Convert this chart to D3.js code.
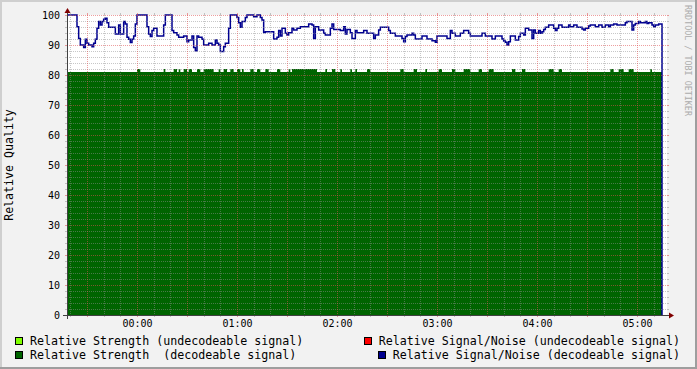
<!DOCTYPE html>
<html lang="en">
<head>
<meta charset="UTF-8">
<title>Relative Quality</title>
<script src="https://d3js.org/d3.v7.min.js"></script>
<style>
  body { margin: 0; background: #f2f2f2; }
  svg text { font-family: "DejaVu Sans Mono", monospace; }
</style>
</head>
<body>
<div id="chart"></div>
<script>
// time window of the graph (clock times, the end is on the next day)
const startTime = "23:18";
const endTime = "05:18";
const hourLabels = ["00:00", "01:00", "02:00", "03:00", "04:00", "05:00"];
const yTicks = [0, 10, 20, 30, 40, 50, 60, 70, 80, 90, 100];

// [minutes after startTime, value] - step changes
const snrDecodeable = [
  [0,100],[6,96.1],[7,92.2],[8,90],[10,89.2],[11,91.9],[12,90.6],[13,90],[15,89.4],[16,90.6],
  [17,91.9],[18,95.6],[19,97.8],[20,96.7],[21,97.8],[22,98.6],[23,98.9],[24,97.4],[25,95.9],[29,93.7],
  [31,96.7],[32,93.7],[34,97.8],[35,97],[36,92.6],[37,91.9],[38,90.8],[39,91.9],[40,93],[41,97],
  [42,100],[48,96.1],[49,93.7],[50,92.8],[51,94.8],[52,95.6],[54,93],[58,96.7],[59,100],[63,94.8],
  [64,94.1],[66,93.3],[67,92.6],[70,93],[72,91.1],[73,91.7],[75,93],[76,89.2],[77,88.1],[78,93],
  [79,92.6],[81,91.9],[82,90],[85,90.6],[87,90],[89,91.7],[90,90.6],[91,90],[92,87.8],[94,89.4],
  [95,90.6],[97,95.6],[98,100],[102,99.2],[103,97.4],[104,95.9],[105,97.8],[107,99.2],[108,100],[112,99.4],
  [114,100],[116,99.2],[117,98.3],[118,94.2],[119,94.4],[124,92],[126,92.6],[127,94.8],[128,93],[129,95.6],
  [131,93.9],[132,93.3],[133,94.1],[135,95.6],[136,95],[138,95.6],[140,96.1],[145,97],[147,96.7],[148,92.2],
  [149,96.1],[151,95],[154,93.9],[155,93.3],[158,95.6],[159,97],[160,95.2],[164,94.8],[166,96.1],[167,93.7],
  [168,95.2],[170,94.1],[171,92.2],[173,94.8],[174,94.1],[178,94.8],[180,93.9],[184,92.2],[185,93.3],[187,95],
  [188,95.9],[193,94.8],[194,93.9],[197,93],[201,92.2],[202,91.1],[203,92.8],[204,93.3],[207,93.9],[208,93.3],
  [209,92],[213,93],[216,92],[219,91.4],[221,90.9],[222,93],[228,92.2],[230,94.8],[231,93.9],[233,93],
  [236,93.9],[238,94.8],[241,93.9],[242,93],[249,93.9],[251,93],[255,92],[257,93],[261,92],[262,91.3],
  [263,90.9],[264,90],[265,91.1],[266,93],[269,91.7],[271,92.8],[272,93.9],[274,93.3],[275,95.6],[277,95],
  [279,92.2],[280,95],[281,93.9],[283,94.8],[284,93.9],[285,94.4],[286,95.2],[287,95.9],[289,96.7],[292,95.6],
  [293,94.8],[294,95.6],[295,96.7],[297,95.9],[301,96.7],[302,96.1],[304,96.7],[306,95.9],[309,95.3],[310,95],
  [311,95.6],[313,96.3],[314,96.7],[317,96.1],[319,96.7],[321,95.9],[323,96.7],[325,96.1],[326,96.7],[328,97],
  [330,96.7],[335,97.4],[336,97.8],[339,95],[340,96.7],[341,97.2],[343,97.8],[344,97.4],[347,97.8],[348,97.2],
  [349,97.4],[351,96.7],[352,96.1],[353,96.7],[355,97],[357,0]
];

const strengthDecodeable = [
  [0,81],[42,82],[44,81],[58,82],[59,81],[64,82],[66,81],[67,82],[68,81],[70,82],
  [72,81],[73,82],[75,81],[78,82],[80,81],[82,82],[88,81],[91,82],[92,81],[94,82],
  [96,81],[98,82],[100,81],[102,82],[104,81],[105,82],[106,81],[110,82],[112,81],[114,82],
  [116,81],[119,82],[121,81],[126,82],[128,81],[133,82],[134,81],[135,82],[150,81],[155,82],
  [156,81],[159,82],[161,81],[164,82],[165,81],[170,82],[171,81],[173,82],[174,81],[180,82],
  [182,81],[200,82],[202,81],[208,82],[210,81],[215,82],[216,81],[223,82],[225,81],[231,82],
  [233,81],[238,82],[242,81],[247,82],[249,81],[253,82],[256,81],[267,82],[269,81],[273,82],
  [275,81],[289,82],[292,81],[295,82],[297,81],[326,82],[328,81],[331,82],[334,81],[337,82],
  [340,81],[350,82],[351,81],[357,0]
];

const legendLabels = [
  "Relative Strength (undecodeable signal)",
  "Relative Signal/Noise (undecodeable signal)",
  "Relative Strength  (decodeable signal)",
  "Relative Signal/Noise (decodeable signal)"
];
const legendColors = ["#80ff00", "#ff0000", "#006400", "#000090"];

const W = 697, H = 369;
const X0 = 67, X1 = 667, Y0 = 315, Y1 = 15;

function clock(s, nextDay) {
  const [h, m] = s.split(":").map(Number);
  return new Date(2024, 0, nextDay ? 2 : 1, h, m);
}
const t0 = clock(startTime, false);
const t1 = clock(endTime, true);
const at = m => new Date(t0.getTime() + m * 60000);

const x = d3.scaleTime().domain([t0, t1]).range([X0, X1]);
const y = d3.scaleLinear().domain([0, 100]).range([Y0, Y1]);

const svg = d3.select("#chart").append("svg")
  .attr("width", W).attr("height", H);

// background + 3d border
svg.append("rect").attr("width", W).attr("height", H).attr("fill", "#f2f2f2");
svg.append("path").attr("d", `M0,0H${W}V2H2V${H}H0Z`).attr("fill", "#cfcfcf");
svg.append("path").attr("d", `M${W},${H}H0V${H - 2}H${W - 2}V0H${W}Z`).attr("fill", "#9e9e9e");

// canvas
svg.append("rect").attr("x", X0).attr("y", Y1).attr("width", X1 - X0).attr("height", Y0 - Y1).attr("fill", "#fff");

// data
const area = d3.area()
  .x(d => x(at(d[0]))).y0(y(0)).y1(d => y(d[1]))
  .curve(d3.curveStepAfter);
svg.append("path").datum(strengthDecodeable)
  .attr("d", area).attr("fill", legendColors[2]);

const line = d3.line()
  .x(d => x(at(d[0]))).y(d => y(d[1]))
  .curve(d3.curveStepAfter);
svg.append("path").datum(snrDecodeable)
  .attr("d", line).attr("fill", "none")
  .attr("stroke", legendColors[3]).attr("stroke-width", 1.5);

// grid
const minorCol = "rgba(143,143,143,0.5)";
const majorCol = "rgba(222,79,79,0.55)";
const grid = svg.append("g").attr("shape-rendering", "crispEdges");

const yMinor = d3.range(2, 100, 2).filter(v => v % 10 !== 0);
const yMajor = yTicks.filter(v => v > 0);
function hLines(vals, col) {
  vals.forEach(v => {
    const py = Math.round(y(v)) + 0.5;
    grid.append("line").attr("x1", X0).attr("x2", X1).attr("y1", py).attr("y2", py)
      .attr("stroke", col).attr("stroke-dasharray", "1,1");
    grid.append("line").attr("x1", X0 - 2).attr("x2", X0).attr("y1", py).attr("y2", py).attr("stroke", col);
    grid.append("line").attr("x1", X1).attr("x2", X1 + 2).attr("y1", py).attr("y2", py).attr("stroke", col);
  });
}
hLines(yMinor, minorCol);
hLines(yMajor, majorCol);

const xAll = d3.timeMinute.every(10).range(t0, t1);
const xMajor = xAll.filter(d => d.getMinutes() % 30 === 0);
const xMinor = xAll.filter(d => d.getMinutes() % 30 !== 0);
function vLines(vals, col) {
  vals.forEach(d => {
    const px = Math.round(x(d)) + 0.5;
    grid.append("line").attr("x1", px).attr("x2", px).attr("y1", Y1).attr("y2", Y0)
      .attr("stroke", col).attr("stroke-dasharray", "1,1");
    grid.append("line").attr("x1", px).attr("x2", px).attr("y1", Y0).attr("y2", Y0 + 2).attr("stroke", col);
    grid.append("line").attr("x1", px).attr("x2", px).attr("y1", Y1 - 2).attr("y2", Y1).attr("stroke", col);
  });
}
vLines(xMinor, minorCol);
vLines(xMajor, majorCol);

// axes
svg.append("line").attr("x1", X0 - 4).attr("x2", X1 + 4).attr("y1", Y0 + 0.5).attr("y2", Y0 + 0.5)
  .attr("stroke", "#404040").attr("shape-rendering", "crispEdges");
svg.append("line").attr("x1", X0 + 0.5).attr("x2", X0 + 0.5).attr("y1", Y0 + 4).attr("y2", Y1 - 4)
  .attr("stroke", "#404040").attr("shape-rendering", "crispEdges");
svg.append("path").attr("d", `M${X1 + 2},${Y0 - 2.5}L${X1 + 2},${Y0 + 3.5}L${X1 + 7},${Y0 + 0.5}Z`).attr("fill", "#800000");
svg.append("path").attr("d", `M${X0 - 2.5},${Y1 - 2}L${X0 + 3.5},${Y1 - 2}L${X0 + 0.5},${Y1 - 7}Z`).attr("fill", "#800000");

const xAxis = svg.append("g").attr("transform", `translate(0,${Y0})`)
  .call(d3.axisBottom(x)
    .tickValues(hourLabels.map(h => clock(h, true)))
    .tickFormat(d3.timeFormat("%H:%M"))
    .tickSize(0).tickPadding(5));
xAxis.select(".domain").remove();
xAxis.selectAll("text").attr("font-family", "DejaVu Sans Mono").attr("font-size", 10).attr("fill", "#000");

const yAxis = svg.append("g").attr("transform", `translate(${X0},0)`)
  .call(d3.axisLeft(y).tickValues(yTicks).tickSize(0).tickPadding(7));
yAxis.select(".domain").remove();
yAxis.selectAll("text").attr("font-family", "DejaVu Sans Mono").attr("font-size", 10).attr("fill", "#000");

// y title
svg.append("text")
  .attr("transform", `translate(13,${(Y0 + Y1) / 2}) rotate(-90)`)
  .attr("text-anchor", "middle").attr("font-size", 11.6)
  .text("Relative Quality");

// watermark
svg.append("text")
  .attr("transform", "translate(685,5) rotate(90)")
  .attr("font-size", 8.4).attr("fill", "#acacac")
  .text("RRDTOOL / TOBI OETIKER");

// legend
const rows = [345, 359];
legendLabels.forEach((lab, i) => {
  const row = Math.floor(i / 2), col = i % 2;
  const g = svg.append("g");
  const t = g.append("text")
    .attr("y", rows[row]).attr("font-size", 11.65)
    .style("white-space", "pre")
    .text(lab);
  let tx;
  if (col === 0) {
    tx = 30;
  } else {
    tx = 680 - t.node().getComputedTextLength();
  }
  t.attr("x", tx);
  g.append("rect").attr("x", tx - 14.5).attr("y", rows[row] - 7.5).attr("width", 7).attr("height", 7)
    .attr("fill", legendColors[i]).attr("stroke", "#000").attr("stroke-width", 1)
    .attr("shape-rendering", "crispEdges");
});
</script>
</body>
</html>
